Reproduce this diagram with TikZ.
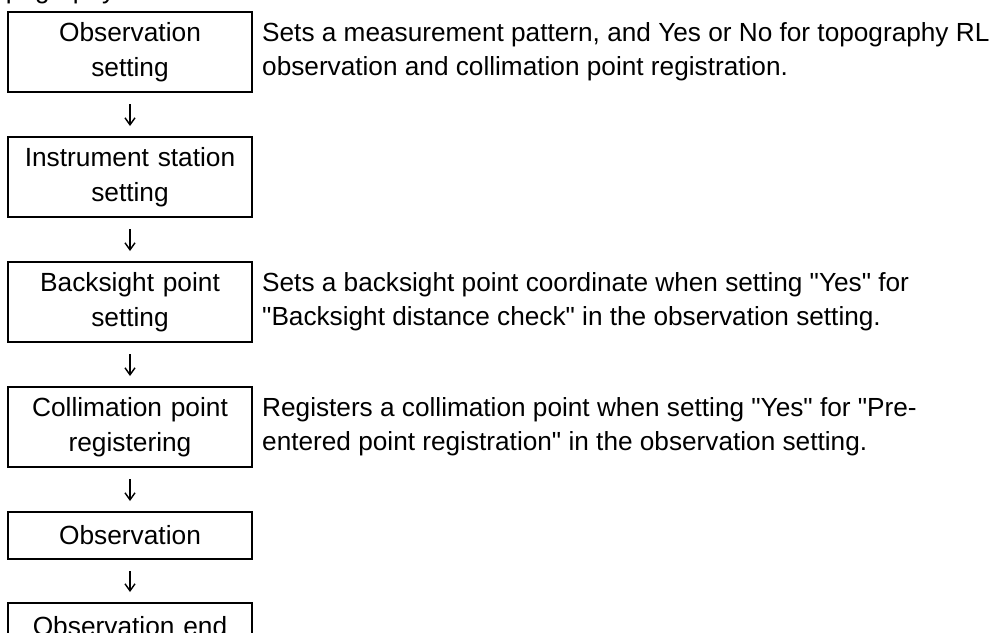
\documentclass[tikz,border=0pt]{standalone}
\usepackage{fontspec}
\setmainfont{Liberation Sans}
\usetikzlibrary{arrows.meta, positioning}
\newcommand{\qt}{\textquotedbl}
\tikzset{
  % Flow step box
  stepbox/.style={
    rectangle, draw=black, line width=2pt, fill=white,
    minimum width=244pt, minimum height=80pt, text width=236pt,
    align=center, inner sep=2pt, font=\fontsize{26.3}{35}\selectfont
  },
  % Single line step box
  shortbox/.style={stepbox, minimum height=47pt},
  % Explanation text to the right of a step
  notetext/.style={
    anchor=west, align=left, inner sep=0pt, font=\fontsize{26.2}{34}\selectfont
  },
  flowarrow/.style={-{Straight Barb[length=7pt, width=10pt, line width=1.4pt]},
    line width=1.4pt, shorten <=11pt, shorten >=10pt}
}
\begin{document}
\begin{tikzpicture}[x=1pt, y=-1pt]
  \useasboundingbox (0,0) rectangle (996,632);
  \clip (0,0) rectangle (996,632);

  % Title (cut off at the top edge)
  \node[notetext, anchor=base west] (title) at (-22,-1.5) {Topography observation flow};

  % Steps
  \node[stepbox] (obsset) at (130,52) {Observation\\setting};
  \node[stepbox] (inst) at (130,177) {Instrument station\\setting};
  \node[stepbox] (back) at (130,302) {Backsight point\\setting};
  \node[stepbox] (colli) at (130,427) {Collimation point\\registering};
  \node[shortbox] (obs) at (130,535.5) {Observation};
  \node[shortbox] (obsend) at (130,626.5) {Observation end};

  % Notes
  \node[notetext] (obssetnote) at (262,52)
    {Sets a measurement pattern, and Yes or No for topography RL\\observation and collimation point registration.};
  \node[notetext] (backnote) at (262,302)
    {Sets a backsight point coordinate when setting \qt Yes\qt{} for\\\qt Backsight distance check\qt{} in the observation setting.};
  \node[notetext] (collinote) at (262,427)
    {Registers a collimation point when setting \qt Yes\qt{} for \qt Pre-\\entered point registration\qt{} in the observation setting.};

  % Arrows
  \draw[flowarrow] (obsset) -- (inst);
  \draw[flowarrow] (inst) -- (back);
  \draw[flowarrow] (back) -- (colli);
  \draw[flowarrow] (colli) -- (obs);
  \draw[flowarrow] (obs) -- (obsend);
\end{tikzpicture}
\end{document}
